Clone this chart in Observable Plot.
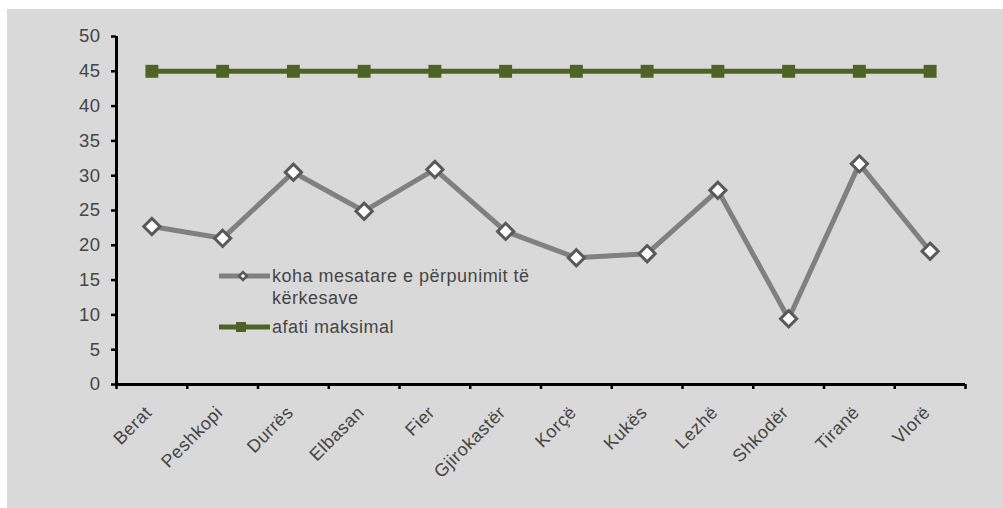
<!DOCTYPE html>
<html>
<head>
<meta charset="utf-8">
<script src="https://cdn.jsdelivr.net/npm/d3@7"></script>
<script src="https://cdn.jsdelivr.net/npm/@observablehq/plot@0.6"></script>
<style>
  html, body { margin: 0; padding: 0; background: #fff; }
  #wrap { position: relative; width: 1003px; height: 508px; overflow: hidden; font-family: "Liberation Sans", Arial, sans-serif; }
  #panel { position: absolute; left: 7px; top: 9px; right: 0; bottom: 0; background: #d9d9d9; }
  #chart { position: absolute; left: 0; top: 0; }
  #legend { position: absolute; left: 0; top: 0; width: 1003px; height: 508px; pointer-events: none; }
  #chart svg text { letter-spacing: 0.5px; }
</style>
</head>
<body>
<div id="wrap">
  <div id="panel"></div>
  <div id="chart"></div>
  <svg id="legend" width="1003" height="508"></svg>
</div>
<script>
const categories = ["Berat", "Peshkopi", "Durrës", "Elbasan", "Fier", "Gjirokastër", "Korçë", "Kukës", "Lezhë", "Shkodër", "Tiranë", "Vlorë"];
const avgTime = [22.7, 21.0, 30.5, 24.9, 30.9, 22.0, 18.2, 18.8, 27.9, 9.45, 31.7, 19.15];
const maxDeadline = [45, 45, 45, 45, 45, 45, 45, 45, 45, 45, 45, 45];
const yTicks = [0, 5, 10, 15, 20, 25, 30, 35, 40, 45, 50];
const seriesNames = ["koha mesatare e përpunimit të kërkesave", "afati maksimal"];

const avgData = categories.map((c, i) => ({i: i + 0.5, v: avgTime[i]}));
const maxData = categories.map((c, i) => ({i: i + 0.5, v: maxDeadline[i]}));

const textColor = "#454545";
const grayLine = "#808080";
const greenLine = "#4F6228";

const chart = Plot.plot({
  width: 1003,
  height: 508,
  marginLeft: 116,
  marginRight: 38,
  marginTop: 36,
  marginBottom: 124,
  style: {background: "transparent", fontFamily: "'Liberation Sans', Arial, sans-serif", color: textColor, overflow: "visible"},
  x: {type: "linear", domain: [0, categories.length]},
  y: {domain: [0, 50]},
  marks: [
    // y axis
    Plot.axisY({ticks: yTicks, tickSize: 5, tickPadding: 11, tickFormat: d => String(d), fontSize: 18.5, label: null, stroke: "#000", strokeWidth: 2.5, fill: textColor}),
    Plot.ruleX([0], {stroke: "#000", strokeWidth: 3}),
    // x axis ticks at band boundaries
    Plot.axisX({ticks: d3.range(categories.length + 1), tickSize: 5, tickFormat: () => "", label: null, stroke: "#000", strokeWidth: 2.5}),
    Plot.axisX({ticks: d3.range(categories.length).map(i => i + 0.5), tickSize: 0, tickFormat: d => categories[Math.floor(d)], tickRotate: -45, tickPadding: 25, dx: -3, fontSize: 18, label: null, fill: textColor}),
    Plot.ruleY([0], {stroke: "#000", strokeWidth: 3}),
    // series
    Plot.line(maxData, {x: "i", y: "v", stroke: greenLine, strokeWidth: 5}),
    Plot.dot(maxData, {x: "i", y: "v", symbol: "square", r: 7.3, fill: greenLine, stroke: "none"}),
    Plot.line(avgData, {x: "i", y: "v", stroke: grayLine, strokeWidth: 5}),
    Plot.dot(avgData, {x: "i", y: "v", symbol: "diamond2", r: 7.3, fill: "#fff", stroke: "#595959", strokeWidth: 3})
  ]
});
document.getElementById("chart").appendChild(chart);

// Legend
const lg = d3.select("#legend");
function entry(y, color, symbol, lines) {
  lg.append("line").attr("x1", 219).attr("x2", 270).attr("y1", y).attr("y2", y)
    .attr("stroke", color).attr("stroke-width", 5);
  if (symbol === "diamond") {
    lg.append("path").attr("d", d3.symbol(d3.symbolDiamond2, 40)())
      .attr("transform", `translate(243,${y})`)
      .attr("fill", "#fff").attr("stroke", "#595959").attr("stroke-width", 2.5);
  } else {
    lg.append("rect").attr("x", 236).attr("y", y - 5).attr("width", 10).attr("height", 10).attr("fill", color);
  }
  lines.forEach((t, k) => {
    lg.append("text").attr("x", 272).attr("y", y + k * 22).attr("dy", "0.35em")
      .attr("font-size", 18).attr("letter-spacing", "0.5px").attr("fill", textColor)
      .attr("font-family", "'Liberation Sans', Arial, sans-serif").text(t);
  });
}
entry(276, grayLine, "diamond", ["koha mesatare e përpunimit të", "kërkesave"]);
entry(327, greenLine, "square", [seriesNames[1]]);
</script>
</body>
</html>
